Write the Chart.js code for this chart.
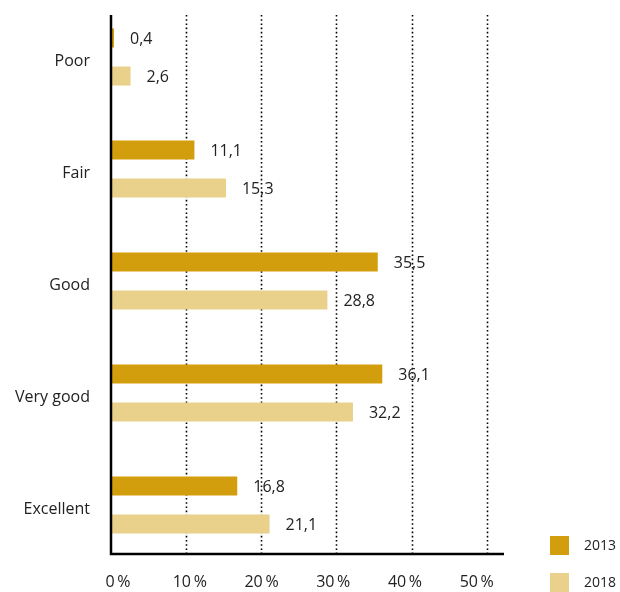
<html>
<head>
<meta charset="UTF-8">
<script src="https://cdn.jsdelivr.net/npm/chart.js"></script>
<style>
  body { margin: 0; background: #fff; }
  #wrap { width: 620px; height: 592px; }
</style>
</head>
<body>
<div id="wrap"><canvas id="myChart" width="620" height="592"></canvas></div>
<script>
const categories = ['Poor', 'Fair', 'Good', 'Very good', 'Excellent'];
const years = ['2013', '2018'];
const values2013 = [0.4, 11.1, 35.5, 36.1, 16.8];
const values2018 = [2.6, 15.3, 28.8, 32.2, 21.1];
const xTicks = [0, 10, 20, 30, 40, 50];

const colors = ['#D39E0E', '#E9D08B'];
const FONT = '"Open Sans", "Noto Sans", sans-serif';
const TEXT = '#222';

// axis lines, dotted grid, value labels and legend
const decor = {
  id: 'decor',
  beforeDatasetsDraw(chart) {
    const { ctx, chartArea: a, scales } = chart;
    const top = a.top + 14, bottom = a.bottom - 8;
    ctx.save();
    ctx.strokeStyle = '#000';
    ctx.lineWidth = 1.6;
    ctx.setLineDash([1.6, 2.6]);
    xTicks.slice(1).forEach(v => {
      const x = Math.round(scales.x.getPixelForValue(v)) + 0.5;
      ctx.beginPath();
      ctx.moveTo(x, top);
      ctx.lineTo(x, bottom);
      ctx.stroke();
    });
    ctx.restore();
  },
  afterDatasetsDraw(chart) {
    const { ctx, chartArea: a, scales } = chart;
    const top = a.top + 14, bottom = a.bottom - 8;
    ctx.save();
    ctx.strokeStyle = '#000';
    ctx.lineWidth = 2.5;
    const x0 = scales.x.getPixelForValue(0);
    ctx.beginPath();
    ctx.moveTo(x0, top);
    ctx.lineTo(x0, bottom + 1);
    ctx.lineTo(a.right, bottom + 1);
    ctx.stroke();

    ctx.font = '16px ' + FONT;
    ctx.fillStyle = TEXT;
    ctx.textAlign = 'left';
    ctx.textBaseline = 'middle';
    chart.data.datasets.forEach((ds, i) => {
      chart.getDatasetMeta(i).data.forEach((bar, j) => {
        ctx.fillText(ds.data[j].toFixed(1).replace('.', ','), bar.x + 16, bar.y + 1);
      });
    });

    ctx.font = '14px ' + FONT;
    years.forEach((y, i) => {
      const ly = a.bottom - 25 + i * 37;
      ctx.fillStyle = colors[i];
      ctx.fillRect(a.right + 46, ly, 19, 19);
      ctx.fillStyle = TEXT;
      ctx.fillText(y, a.right + 80, ly + 10);
    });
    ctx.restore();
  }
};

new Chart(document.getElementById('myChart'), {
  type: 'bar',
  data: {
    labels: categories,
    datasets: [
      { label: years[0], data: values2013, backgroundColor: colors[0] },
      { label: years[1], data: values2018, backgroundColor: colors[1] }
    ]
  },
  options: {
    indexAxis: 'y',
    responsive: false,
    animation: false,
    categoryPercentage: 0.68,
    barPercentage: 0.5,
    layout: { padding: { top: 1, right: 116, left: 0, bottom: 0 } },
    scales: {
      x: {
        display: false,
        min: 0,
        max: 52.3
      },
      xLabels: {
        type: 'linear',
        position: 'bottom',
        min: -0.98,
        max: 53.8,
        afterBuildTicks: s => { s.ticks = xTicks.map(v => ({ value: v })); },
        afterFit: s => { s.height = 31; s.paddingLeft = 0; s.paddingRight = 0; },
        grid: { display: false, drawTicks: false },
        border: { display: false },
        ticks: {
          padding: 12,
          color: TEXT,
          font: { family: FONT, size: 16 },
          callback: v => v + '\u2009%'
        }
      },
      y: {
        afterFit: s => { s.width = 111; s.paddingTop = 0; s.paddingBottom = 0; },
        grid: { display: false, drawTicks: false },
        border: { display: false },
        ticks: {
          padding: 21,
          labelOffset: 4,
          color: TEXT,
          font: { family: FONT, size: 16 }
        }
      }
    },
    plugins: {
      legend: { display: false },
      tooltip: { enabled: false }
    }
  },
  plugins: [decor]
});
</script>
</body>
</html>
